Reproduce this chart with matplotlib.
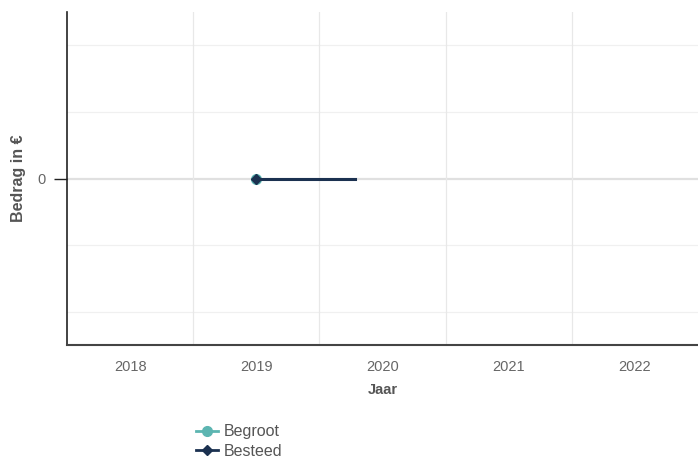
import matplotlib.pyplot as plt
from matplotlib.lines import Line2D

# === data ===
years = ["2018", "2019", "2020", "2021", "2022"]
begroot_x = [1]
begroot_y = [0]
besteed_x = [1, 1.78]
besteed_y = [0, 0]
y_grid = [-2, -1, 0, 1, 2]

teal = "#5cb5b1"
navy = "#1b3150"
grey_text = "#666666"

plt.rcParams['font.family'] = ['Liberation Sans', 'DejaVu Sans']

fig = plt.figure(figsize=(6.98, 4.59), dpi=100)
ax = fig.add_axes([0.096, 0.248, 0.904, 0.726])

# grid
for v in y_grid:
    ax.axhline(v, color="#e0e0e0" if v == 0 else "#f0f0f0",
               lw=1.6 if v == 0 else 0.9, zorder=0)
for v in [0.5, 1.5, 2.5, 3.5]:
    ax.axvline(v, color="#e8e8e8", lw=0.9, zorder=0)

ax.plot(begroot_x, begroot_y, color=teal, marker="o", ms=7, lw=2.2, zorder=3)
ax.plot(besteed_x, besteed_y, color=navy, marker="D", ms=5, lw=2.2,
        markevery=[0], zorder=4)

ax.set_xlim(-0.5, 4.5)
ax.set_ylim(-2.5, 2.5)
ax.set_xticks(range(len(years)))
ax.set_xticklabels(years)
ax.set_yticks([0])
ax.set_yticklabels(["0"])
ax.tick_params(axis="x", length=0, pad=11, labelsize=10.5, labelcolor=grey_text)
ax.tick_params(axis="y", length=9.5, width=1, color="#222222", pad=6,
               labelsize=10.5, labelcolor=grey_text)

for s in ["top", "right"]:
    ax.spines[s].set_visible(False)
ax.spines["left"].set_color("#222222")
ax.spines["bottom"].set_color("#444444")
ax.spines["left"].set_linewidth(1.2)
ax.spines["bottom"].set_linewidth(1.5)

ax.set_xlabel("Jaar", fontsize=10.5, fontweight="bold", color="#555555", labelpad=6.5)
ax.set_ylabel("Bedrag in €", fontsize=11.5, fontweight="bold", color="#555555",
              labelpad=8)

handles = [
    Line2D([], [], color=teal, marker="o", ms=7, lw=2),
    Line2D([], [], color=navy, marker="D", ms=5, lw=2),
]
fig.legend(handles, ["Begroot", "Besteed"], loc="lower left",
           bbox_to_anchor=(0.262, -0.028), frameon=False, fontsize=11.5,
           labelcolor="#555555", handlelength=1.4, handletextpad=0.35,
           labelspacing=0.3, borderpad=0.3)

plt.savefig("out.png", dpi=100)
